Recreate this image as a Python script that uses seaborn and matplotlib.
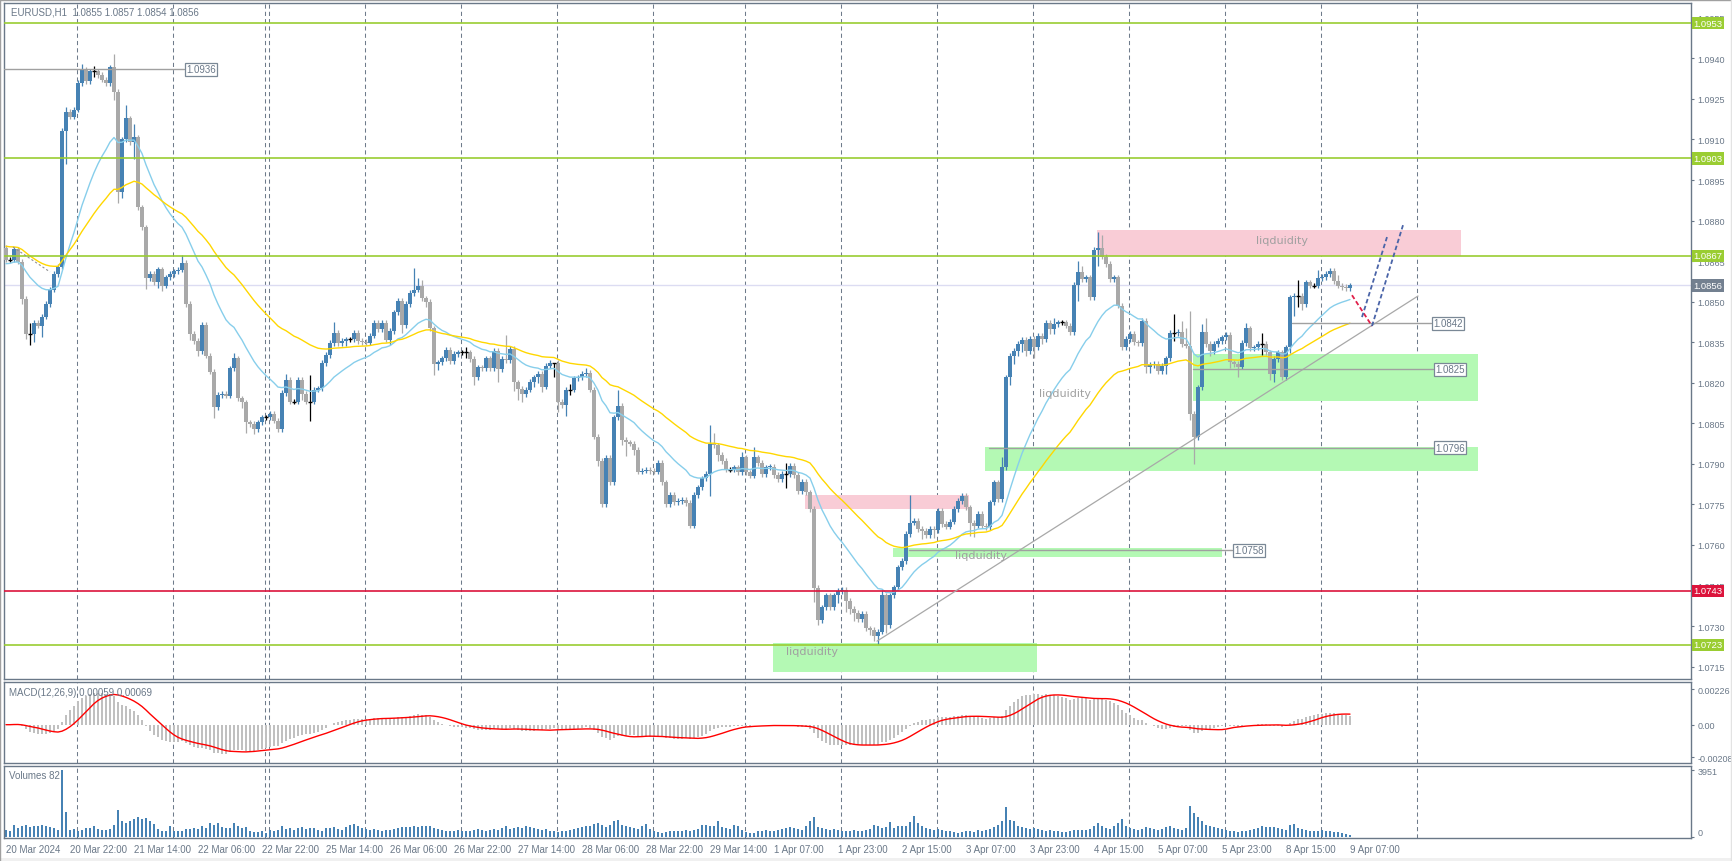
import numpy as np
import pandas as pd
import seaborn as sns
import matplotlib.pyplot as plt
import matplotlib.transforms as mtransforms
from matplotlib.patches import Rectangle

sns.set_style("white")
plt.rcParams['font.family'] = ['Liberation Sans', 'DejaVu Sans']

# EURUSD H1 closes, in pips above 1.0700 (20 Mar 06:00 .. 9 Apr 07:00)
close_a = [165.5, 165.5, 169.4, 164.8, 151.0, 138.1, 138.1, 142.1, 141.1, 144.5,
           149.1, 154.4, 160.2, 163.0, 213.1, 220.2, 218.5, 221.0, 230.9, 236.0,
           231.7, 235.2, 235.2, 233.8, 232.1, 230.9, 236.7, 227.7, 190.4, 210.1,
           217.8, 208.9, 210.8, 184.9, 177.5, 158.8, 160.2, 157.1, 162.0, 155.9,
           159.0, 160.2, 161.2, 161.8, 164.3, 149.1, 138.0, 135.5, 131.8, 141.3,
           130.0, 124.1, 111.1, 115.4, 115.9, 115.2, 125.3, 129.0, 114.2, 112.7,
           105.3, 104.7, 102.9, 105.3, 107.2, 107.2, 108.4, 106.0, 102.9, 116.2,
           121.1, 113.0, 113.0, 121.1, 115.8, 113.0, 113.0, 117.4, 117.9, 127.3,
           130.2, 134.7, 138.4, 134.7, 135.6, 136.1, 136.1, 138.4, 135.5, 135.1,
           134.8, 137.4, 142.1, 139.9, 142.1, 135.9, 139.2, 146.0, 150.3, 141.3,
           149.1, 153.2, 154.4, 155.9, 151.2, 150.0, 140.1, 126.9, 127.5, 129.0,
           132.2, 128.1, 130.6, 131.2]
close_b = [131.2, 131.2, 128.8, 122.0, 125.7, 125.3, 129.0, 125.3, 131.8, 125.1,
           128.8, 128.3, 132.5, 120.1, 117.7, 115.8, 117.4, 120.4, 122.0, 123.2,
           118.6, 126.3, 127.3, 127.3, 113.0, 111.7, 117.4, 117.4, 121.6, 122.0,
           123.2, 123.6, 117.4, 100.1, 91.1, 75.1, 92.1, 83.1, 107.2, 111.5,
           98.9, 97.9, 97.5, 95.2, 87.1, 87.5, 87.9, 87.4, 87.1, 90.3,
           83.1, 75.1, 78.4, 75.7, 76.3, 76.8, 75.5, 67.1, 78.4, 81.3,
           84.6, 86.2, 97.3, 96.8, 93.2, 91.1, 87.8, 87.8, 88.7, 86.8,
           92.4, 86.8, 85.6, 92.4, 90.3, 86.2, 88.7, 89.0, 85.8, 84.4,
           86.2, 86.2, 89.3, 85.8, 80.0, 83.4, 79.4, 73.3]
close_c = [44.0, 32.3, 36.9, 41.4, 36.9, 41.4, 43.0, 43.4, 39.3, 36.3,
           35.0, 32.6, 34.4, 29.1, 28.5, 26.4, 27.9, 41.4, 30.3, 41.4,
           44.3, 51.7, 54.0, 64.0, 68.3, 68.9, 65.9, 65.2, 63.5, 66.0,
           65.5, 72.6, 67.7, 66.8, 68.6, 73.3, 76.3, 78.2, 73.9, 68.3,
           67.1, 71.4, 67.1, 66.5, 75.7, 83.1, 77.0, 88.7]
close_d = [122.0, 130.0, 131.8, 134.3, 135.9, 131.8, 136.2, 133.1, 137.4, 136.2,
           142.1, 139.9, 141.8, 142.3, 142.3, 141.1, 138.6, 156.1, 161.1, 158.4,
           159.0, 151.6, 169.2, 169.7, 166.7, 163.9, 158.4, 159.0, 148.5, 133.1,
           136.2, 138.0, 135.0, 134.6, 143.0, 125.7, 126.5, 126.9, 124.4, 126.3,
           129.0, 138.4, 138.4, 138.9, 134.3, 133.7, 108.4, 99.8, 118.3, 138.9,
           134.3, 131.8, 134.3, 135.5, 136.8, 137.6, 127.5, 126.9, 126.0, 134.7,
           140.1, 132.7, 133.1, 134.3, 134.3, 131.2, 123.2, 128.8, 131.2, 122.0,
           133.1, 151.6, 152.2, 152.2, 149.1, 157.1, 155.9, 155.9, 158.6, 159.1,
           160.2, 161.4, 157.7, 155.9, 155.5, 155.0, 156.0]
first_open = 170.0

# wick lengths beyond the body, pips
wick_up = [1,1,1,1,1,1,4,1,1,1, 1,1,1,1,1,2,1,1,1,2, 1,1,2,1,1,1,1,5,1,1,
           5,1,5,1,1,1,1,1,1,1, 1,1,1,1,3,1,1,1,1,1, 1,1,1,1,1,1,1,2,1,1,
           1,1,1,1,1,1,1,1,1,1, 2,1,1,1,1,1,10,1,1,1, 1,1,4,1,1,1,1,1,1,1,
           1,1,1,1,1,1,1,1,1,1, 1,1,8,3,2,1,1,1,1,1, 1,1,1,1,
           1,2,1,1,1,1,1,1,1,1, 1,9,1,1,1,1,1,1,1,1, 1,1,1,0,1,1,1,2,1,1,
           1,2,1,1,1,1,1,1,1,6, 1,1,1,1,1,1,1,1,1,1, 1,1,1,1,1,1,1,1,1,1,
           1,1,7,4,1,1,1,1,1,1, 2,1,1,4,1,1,1,1,1,1, 1,4,1,1,1,1,1,1,
           1,1,1,1,1,1,1,1,1,1, 1,1,1,1,1,1,1,2,1,1, 1,1,1,1,10,1,1,1,1,1,
           1,1,1,1,1,1,1,1,1,1, 1,1,1,1,1,1,1,4,
           1,1,1,1,1,1,1,1,1,1, 1,1,2,1,1,1,1,1,4,2, 1,1,1,6,5,1,1,1,1,1,
           1,1,1,1,1,1,1,1,1,1, 1,1,7,1,4,6,13,1,1,3, 5,1,1,1,1,1,1,1,1,1,
           2,1,1,1,4,1,1,1,1,1, 1,1,1,6,1,1,1,1,3,1, 1,1,1,2,1,1,1]
wick_dn = [1,1,1,1,2,2,4,3,1,4, 1,1,1,1,1,12,1,1,1,1, 1,1,2,1,1,1,1,3,4,2,
           1,1,6,1,1,4,1,1,2,2, 1,1,1,1,1,1,2,1,2,1, 1,1,4,1,1,1,1,1,1,2,
           4,1,2,1,1,1,1,1,1,1, 1,1,1,1,2,1,7,1,1,1, 1,1,1,1,1,2,1,1,1,1,
           1,1,1,1,1,1,2,1,1,3, 1,1,1,1,1,2,1,4,2,1, 1,1,1,1,
           1,2,1,3,1,1,1,1,1,5, 1,1,1,3,4,3,1,1,2,2, 2,1,1,5,4,1,4,2,1,1,
           1,1,1,1,2,1,1,1,1,1, 2,5,1,2,1,1,1,1,1,1, 1,1,1,1,1,1,1,1,1,1,
           1,1,8,1,2,1,1,1,1,1, 1,1,1,1,1,1,1,1,1,1, 1,5,1,1,1,1,1,1,
           5,2,1,1,1,1,3,1,4,2, 3,1,1,1,2,2,3,1,3,1, 1,1,1,1,1,1,1,3,1,1,
           3,1,1,1,1,1,1,1,1,5, 4,1,1,1,1,1,1,1,
           1,3,3,2,3,2,1,4,1,2, 1,2,2,1,1,1,1,1,6,1, 1,1,1,6,1,1,1,1,1,1,
           1,1,1,1,1,2,2,1,1,1, 3,1,3,1,1,1,2,10,1,1, 1,2,1,1,1,1,2,1,4,1,
           1,1,1,1,4,1,2,3,1,1, 1,2,7,4,2,1,1,1,1,1, 1,1,1,1,1,1,1]

# tick volumes
vol_a = [380, 330, 700, 520, 650, 700, 560, 600, 650, 700, 620, 540, 480, 400,
         3951, 1480, 380, 420, 320, 380, 520, 480, 650, 430, 380, 400, 420, 700,
         1550, 950, 800, 900, 1050, 1150, 1050, 1080, 900, 720,
         450, 320, 350, 650, 350, 300, 330, 450, 450, 500, 430, 620]
vol_b = [500, 780, 700, 780, 580, 500, 520, 780, 620, 500, 580,
         300, 250, 280, 350, 220, 400, 350, 400, 650, 450,
         500, 400, 480, 550, 450, 500, 500, 400, 350, 500, 520, 550,
         450, 400, 550, 700, 750, 600, 500, 450, 400, 450, 400, 350, 380,
         400, 450, 500, 550]
vol_c = [570, 550, 600, 550, 650, 650, 600, 500, 450, 400, 350,
         300, 350, 400, 350, 300, 350, 400, 450, 400, 350, 400, 450, 400, 500, 600,
         450, 500, 550, 500, 600, 550, 500, 450, 400, 450, 350, 300, 250, 350, 300,
         400, 450, 500, 550, 600, 650, 750, 800, 700]
vol_d = [550, 700, 950, 1000, 700, 600,
         550, 500, 450, 600, 750, 450, 300, 250, 220, 250, 300, 350, 300, 350, 400,
         350, 400, 450, 700, 700, 600, 650, 950, 550, 500, 450, 700, 600, 400, 250,
         200, 220, 300, 350, 400, 350, 300, 400, 450, 500, 550, 500, 450, 400]
vol_e = [600, 900, 1150, 550,
         500, 450, 400, 450, 400, 350, 300, 350, 400, 350, 300, 400, 450, 700, 650,
         500, 550, 850, 500, 650, 650, 600, 850, 1240, 800,
         600, 500, 450, 400, 450, 400, 350, 300, 250, 220, 250, 300, 350, 280, 400,
         350, 400, 450, 550, 700, 900]
vol_f = [1750, 1000, 900, 600,
         550, 500, 450, 500, 450, 400, 350, 400, 350, 300, 250, 250, 300, 400, 400, 400, 400,
         450, 650, 800, 650, 500, 450, 600, 800, 1050, 600, 500, 450, 400, 450, 550,
         500, 450, 400, 450, 550, 600, 500, 450, 400, 500,
         1800, 1400, 1150, 900]
vol_g = [700, 600, 550, 500, 450, 400, 350, 300, 250, 300, 350, 400, 450, 500, 600,
         550, 550, 550, 500, 450, 400,
         700, 750, 500, 450, 400, 350, 300, 350, 400, 350, 300, 250, 250, 200, 150, 82]

time_labels = ["20 Mar 2024", "20 Mar 22:00", "21 Mar 14:00", "22 Mar 06:00", "22 Mar 22:00",
               "25 Mar 14:00", "26 Mar 06:00", "26 Mar 22:00", "27 Mar 14:00", "28 Mar 06:00",
               "28 Mar 22:00", "29 Mar 14:00", "1 Apr 07:00", "1 Apr 23:00", "2 Apr 15:00",
               "3 Apr 07:00", "3 Apr 23:00", "4 Apr 15:00", "5 Apr 07:00", "5 Apr 23:00",
               "8 Apr 15:00", "9 Apr 07:00"]
day_separators = [18, 42, 65, 66, 90, 114, 138, 162, 185, 209, 233, 257, 281, 305, 329, 353]

ema_fast_start = 1.08639
ema_slow_start = 1.08707

levels_green = [1.0953, 1.0903, 1.0867, 1.0723]
level_red = 1.0743
last_price = 1.0856

# drawn objects: zones (bar from, bar to, price low, price high)
pink_zones = [(272.75, 363.75, 1.08669, 1.08765), (199.75, 240.75, 1.07732, 1.07784)]
green_zones = [(191.75, 257.75, 1.07129, 1.07236), (221.75, 304.0, 1.07556, 1.07589),
               (244.75, 368.0, 1.07873, 1.07962), (296.75, 368.0, 1.08132, 1.08306)]
zone_texts = [(319.0, 1.08728, 'center'), (258.25, 1.08161, 'left'),
              (237.25, 1.07562, 'left'), (195.0, 1.07208, 'left')]
# price marks: (bar from, bar to, price)
price_marks = [(-0.5, 44.5, 1.0936), (225.75, 306.5, 1.0758), (321.5, 356.25, 1.0842),
               (296.75, 356.75, 1.0825), (245.75, 356.75, 1.0796)]
trend_x = [217.75, 353.0]
trend_y = [1.07244, 1.08521]
red_path_x = [336.5, 341.5]
red_path_y = [1.08524, 1.08410]
blue_path1_x = [339.0, 345.25]
blue_path1_y = [1.08443, 1.08739]
blue_path2_x = [341.5, 349.25]
blue_path2_y = [1.08410, 1.08783]
old_dash_x = [1.75, 11.0]
old_dash_y = [1.08702, 1.08610]

closes_pips = close_a + close_b + close_c + close_d
volumes = vol_a + vol_b + vol_c + vol_d + vol_e + vol_f + vol_g
assert len(closes_pips) == 337, (len(close_a), len(close_b), len(close_c), len(close_d))
assert len(wick_up) == 337 and len(wick_dn) == 337, (len(wick_up), len(wick_dn))
assert len(volumes) == 337, len(volumes)

closes = 1.07 + np.array(closes_pips) / 1e4
opens = np.r_[1.07 + first_open / 1e4, closes[:-1]]
highs = np.maximum(opens, closes) + np.array(wick_up) / 1e4
lows = np.minimum(opens, closes) - np.array(wick_dn) / 1e4
n = len(closes)
idx = np.arange(n)

BLUE = '#4682b4'
GREY = '#a9a9a9'
FG = '#6a7888'
up = closes > opens + 0.000015
dn = closes < opens - 0.000015
doji = ~(up | dn)
colors = np.where(up, BLUE, np.where(dn, GREY, 'black'))

s = pd.Series(closes)
ema_fast = pd.Series(np.r_[ema_fast_start, closes]).ewm(span=21, adjust=False).mean().values[1:]
ema_slow = pd.Series(np.r_[ema_slow_start, closes]).ewm(span=50, adjust=False).mean().values[1:]
macd = (s.ewm(span=12, adjust=False).mean() - s.ewm(span=26, adjust=False).mean()).values
signal = pd.Series(macd).rolling(9, min_periods=1).mean().values

W, H = 1733, 862
fig = plt.figure(figsize=(W / 100, H / 100), dpi=100)
L, R = 4, 1691
ax = fig.add_axes([L / W, 1 - 680 / H, (R - L) / W, (680 - 4) / H])
axm = fig.add_axes([L / W, 1 - 764 / H, (R - L) / W, (764 - 683) / H], sharex=ax)
axv = fig.add_axes([L / W, 1 - 839 / H, (R - L) / W, (839 - 767) / H], sharex=ax)

for a in (ax, axm, axv):
    a.set_facecolor('white')
    for sp in a.spines.values():
        sp.set_color(FG)
        sp.set_linewidth(1.0)
    for d in day_separators:
        a.axvline(d - 0.3, color='#6e7b8b', lw=0.75, ls=(0, (4, 3)), zorder=0.5)

ax.set_xlim(-0.5, 421.25)
ax.set_ylim(1.07104, 1.09605)

# zones
for x0, x1, y0, y1 in pink_zones:
    ax.add_patch(Rectangle((x0, y0), x1 - x0, y1 - y0, fc='#f9ccd6', ec='none', zorder=1))
for x0, x1, y0, y1 in green_zones:
    ax.add_patch(Rectangle((x0, y0), x1 - x0, y1 - y0, fc='#b4f9b4', ec='none', zorder=1))

ax.axhline(last_price, color='#dcdcf2', lw=1, zorder=1.5)

# candles
ax.vlines(idx, lows, highs, colors=colors, lw=0.9, zorder=4)
body_h = np.maximum(np.abs(closes - opens), 0.00004)
body_b = np.minimum(opens, closes)
ax.bar(idx[~doji], body_h[~doji], bottom=body_b[~doji], width=0.78,
       color=colors[~doji], lw=0, zorder=5)
ax.hlines(closes[doji], idx[doji] - 0.45, idx[doji] + 0.45, colors='black', lw=1, zorder=5)

# moving averages
sns.lineplot(x=idx, y=ema_fast, ax=ax, color='#87ceeb', lw=1, estimator=None, zorder=6)
sns.lineplot(x=idx, y=ema_slow, ax=ax, color='#ffd700', lw=1, estimator=None, zorder=6)

# levels
for lv in levels_green:
    ax.axhline(lv, color='#9acd32', lw=1.2, zorder=6)
ax.axhline(level_red, color='#dc143c', lw=1.2, zorder=6)

# trend line and projections
ax.plot(trend_x, trend_y, color='#a8a8a8', lw=0.9, zorder=6)
ax.plot(old_dash_x, old_dash_y, color='#909090', lw=0.8, ls=(0, (2, 2)), zorder=6)
ax.plot(red_path_x, red_path_y, color='#e0204a', lw=1.3, ls=(0, (2.5, 1.5)), zorder=7)
ax.plot(blue_path1_x, blue_path1_y, color='#4a64a8', lw=1.3, ls=(0, (2.5, 1.5)), zorder=7)
ax.plot(blue_path2_x, blue_path2_y, color='#4a64a8', lw=1.3, ls=(0, (2.5, 1.5)), zorder=7)

for x0, x1, p in price_marks:
    ax.plot([x0, x1], [p, p], color='#a0a0a0', lw=1, zorder=6)
    ax.text(x1 + 0.5, p, f'{p:.4f}', fontsize=7, color=FG, ha='left', va='center', zorder=9,
            bbox=dict(boxstyle='square,pad=0.15', fc='white', ec='#7a8896', lw=0.9))

for x, y, ha in zone_texts:
    ax.text(x, y, 'liqduidity', fontsize=8, color='#a0a0a0', ha=ha, va='center',
            family='DejaVu Sans', zorder=8)

# right price axis
ax.yaxis.tick_right()
pt = [1.0715 + 0.0015 * k for k in range(17)]
ax.set_yticks(pt)
ax.set_yticklabels([f'{v:.4f}' for v in pt])
ax.tick_params(axis='y', length=2.5, width=0.8, colors=FG, labelsize=6.5, pad=2)
ax.tick_params(axis='x', bottom=False, labelbottom=False)

trans = mtransforms.blended_transform_factory(ax.transAxes, ax.transData)
def price_tag(y, fc):
    ax.text(1.0016, y, f'{y:.4f}', transform=trans, fontsize=6.8, color='white',
            ha='left', va='center', clip_on=False, zorder=20,
            bbox=dict(boxstyle='square,pad=0.17', fc=fc, ec='none'))
for lv in levels_green:
    price_tag(lv, '#9acd32')
price_tag(level_red, '#dc143c')
price_tag(last_price, '#738090')

ax.text(0.004, 0.987, 'EURUSD,H1  1.0855 1.0857 1.0854 1.0856', transform=ax.transAxes,
        fontsize=7, color=FG, ha='left', va='center')

# MACD
axm.bar(idx, macd, width=0.6, color='#c0c0c0', lw=0, zorder=2)
sns.lineplot(x=idx, y=signal, ax=axm, color='red', lw=1, estimator=None, zorder=3)
axm.set_ylim(-0.00246, 0.00274)
axm.yaxis.tick_right()
axm.set_yticks([0.00226, 0.0, -0.00208])
axm.set_yticklabels(['0.00226', '0.00', '-0.00208'])
axm.tick_params(axis='y', length=2.5, width=0.8, colors=FG, labelsize=6.5, pad=2)
axm.tick_params(axis='x', bottom=False, labelbottom=False)
axm.text(0.003, 0.88, 'MACD(12,26,9) 0.00059 0.00069', transform=axm.transAxes,
         fontsize=7, color=FG, ha='left', va='center')

# Volumes
axv.bar(idx, volumes, width=0.7, color=BLUE, lw=0, zorder=2)
axv.set_ylim(-89, 4190)
axv.yaxis.tick_right()
axv.set_yticks([3951, 0])
axv.set_yticklabels(['3951', '0'])
axv.tick_params(axis='y', length=2.5, width=0.8, colors=FG, labelsize=6.5, pad=2)
axv.get_yticklabels()[1].set_verticalalignment('bottom')
axv.text(0.003, 0.88, 'Volumes 82', transform=axv.transAxes,
         fontsize=7, color=FG, ha='left', va='center')

axv.set_xticks(np.arange(0, 16 * len(time_labels), 16))
axv.set_xticklabels(time_labels)
for t in axv.get_xticklabels():
    t.set_horizontalalignment('left')
axv.tick_params(axis='x', length=3, width=0.8, colors=FG, labelsize=7, pad=1)
for a in (ax, axm, axv):
    a.set_xlabel('')
    a.set_ylabel('')
    a.grid(False)
ax.set_xlim(-0.5, 421.25)

# outer frame
fig.add_artist(plt.Line2D([0, 1], [1 - 0.5 / H, 1 - 0.5 / H], color='#a0a0a0', lw=1))
fig.add_artist(plt.Line2D([0.5 / W, 0.5 / W], [0, 1], color='#a0a0a0', lw=1))
fig.add_artist(plt.Line2D([1731 / W, 1731 / W], [0, 1], color='#e3e3e3', lw=1))
fig.add_artist(Rectangle((0, 0), 1, 3 / H, transform=fig.transFigure, fc='#f0f0f0', ec='none'))

fig.savefig('out.png', dpi=100)
